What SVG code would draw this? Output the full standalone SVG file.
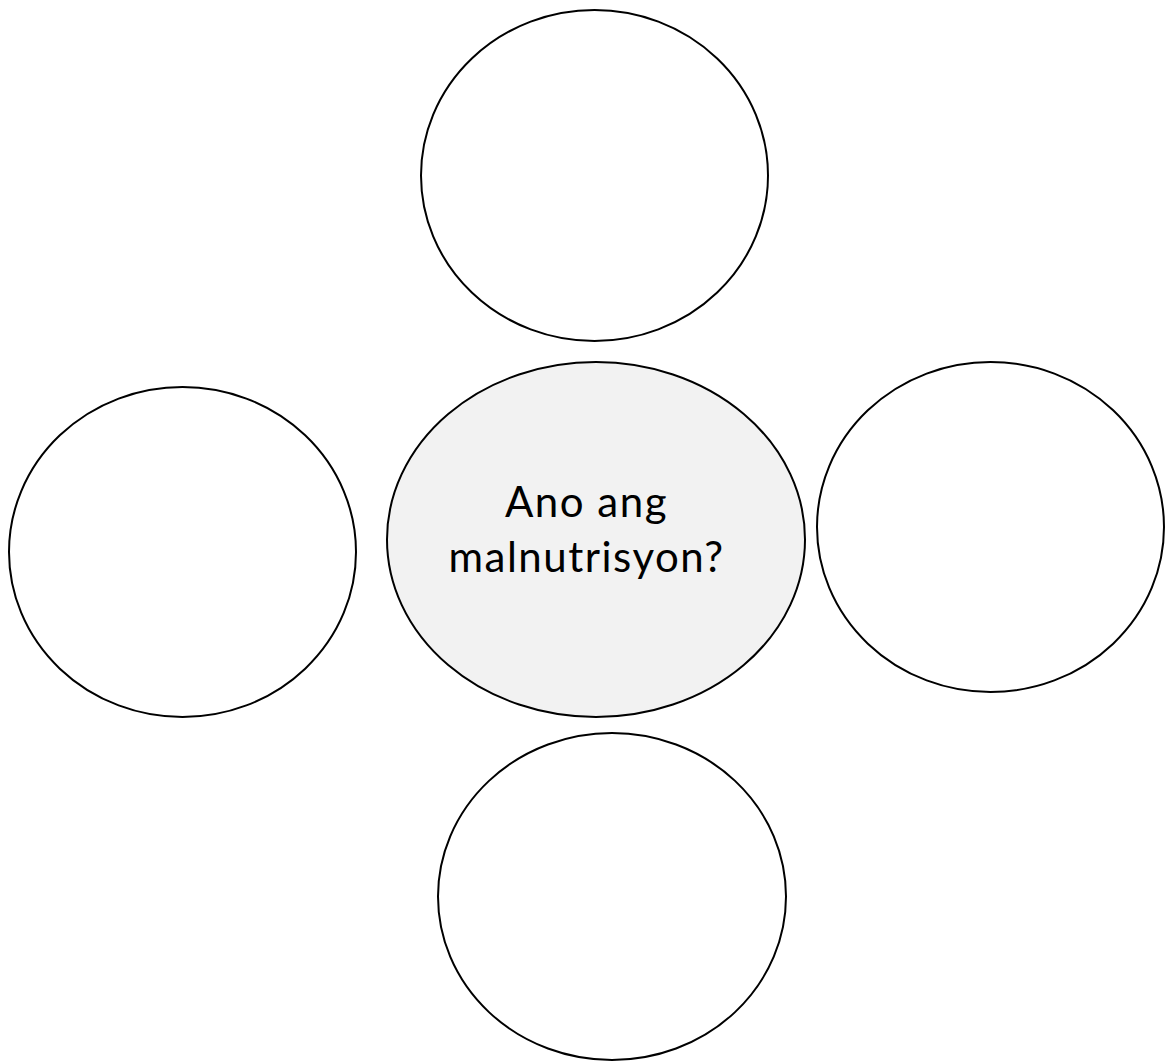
<svg xmlns="http://www.w3.org/2000/svg" width="1166" height="1062" viewBox="0 0 1166 1062">
<style>
.n{fill:#ffffff;stroke:#000000;stroke-width:2}
.c{fill:#f2f2f2;stroke:#000000;stroke-width:2}
.t{font-family:"Lato","Liberation Sans",sans-serif;font-size:42px;letter-spacing:1.5px;fill:#000000;text-anchor:middle}
</style>
<rect width="1166" height="1062" fill="#ffffff"/>
<g id="connectors"></g>
<g id="node-top"><ellipse class="n" cx="594.5" cy="175.5" rx="173.5" ry="165.5"/></g>
<g id="node-left"><ellipse class="n" cx="182.5" cy="552" rx="173.5" ry="165"/></g>
<g id="node-center"><ellipse class="c" cx="596" cy="539.5" rx="209" ry="177.5"/>
<text class="t" x="586.5" y="517">Ano ang</text>
<text class="t" x="586.5" y="572">malnutrisyon?</text></g>
<g id="node-right"><ellipse class="n" cx="990.5" cy="527" rx="173.5" ry="165"/></g>
<g id="node-bottom"><ellipse class="n" cx="612" cy="896.5" rx="174" ry="163.5"/></g>
</svg>
